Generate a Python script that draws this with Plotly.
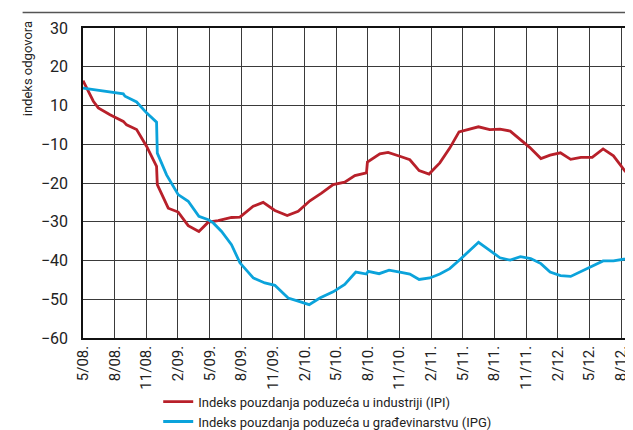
import plotly.graph_objects as go

# x positions in months since May 2008 (0 = 5/08)
ipi_x = [0, 0.98, 1.45, 2.56, 3.82, 4.13, 5.08, 6.02, 6.97, 7.04, 8.08, 9.02, 9.97, 10.98,
         11.87, 12.81, 14.07, 14.87, 16.13, 17.07, 18.18, 19.35, 20.39, 21.5, 22.6, 23.7,
         24.8, 25.76, 26.86, 26.95, 28.13, 28.91, 30.02, 30.97, 31.85, 32.79, 33.81, 34.75,
         35.63, 36.96, 37.47, 38.54, 39.51, 40.48, 41.52, 42.32, 43.39, 44.26, 45.24, 46.21,
         47.18, 48.25, 49.28, 50.26, 51.38, 52.02]
ipi_y = [6.4, 1.1, -0.6, -2.4, -4.1, -5.0, -6.2, -10.5, -15.7, -20.4, -26.5, -27.5, -31.0, -32.5,
         -30.1, -29.7, -28.9, -28.8, -26.0, -25.0, -27.1, -28.4, -27.3, -24.6, -22.6, -20.4,
         -19.8, -18.1, -17.4, -14.6, -12.5, -12.1, -13.1, -14.0, -16.8, -17.7, -14.8, -11.0,
         -6.8, -5.8, -5.5, -6.2, -6.1, -6.6, -9.0, -10.8, -13.7, -12.8, -12.2, -13.9,
         -13.4, -13.4, -11.2, -13.0, -17.0, -17.6]

ipg_x = [0, 3.82, 3.98, 5.08, 6.02, 6.97, 7.04, 7.92, 9.02, 9.97, 10.98, 11.87, 12.34, 13.13,
         14.07, 14.87, 16.13, 17.23, 18.18, 19.44, 20.39, 21.43, 22.44, 23.7, 24.8, 25.85,
         26.86, 27.02, 28.06, 29.0, 30.02, 30.97, 31.85, 32.86, 33.81, 34.75, 35.7, 36.66,
         37.48, 38.44, 39.51, 40.48, 41.45, 42.42, 43.39, 44.26, 45.24, 46.21, 47.18, 48.25,
         49.28, 50.26, 51.38, 52.02]
ipg_y = [4.5, 3.0, 2.4, 0.9, -1.9, -4.3, -12.3, -17.9, -23.0, -24.7, -28.6, -29.5, -30.3, -32.5,
         -35.9, -40.6, -44.5, -45.8, -46.4, -49.7, -50.5, -51.4, -49.7, -48.1, -46.2, -43.0,
         -43.5, -42.8, -43.4, -42.5, -43.0, -43.5, -44.9, -44.5, -43.5, -42.1, -39.8, -37.5,
         -35.3, -37.2, -39.3, -39.9, -39.0, -39.5, -40.8, -43.0, -43.9, -44.1, -42.8, -41.4,
         -40.1, -40.1, -39.6, -39.1]

x_tick_pos = list(range(0, 52, 3))
x_tick_labels = ["5/08.", "8/08.", "11/08.", "2/09.", "5/09.", "8/09.", "11/09.", "2/10.",
                 "5/10.", "8/10.", "11/10.", "2/11.", "5/11.", "8/11.", "11/11.", "2/12.",
                 "5/12.", "8/12."]
y_tick_pos = [20, 10, 0, -10, -20, -30, -40, -50, -60]
y_tick_labels = ["30", "20", "10", "−10", "−20", "−30", "−40", "−50", "−60"]

series_names = ["Indeks pouzdanja poduzeća u industriji (IPI)",
                "Indeks pouzdanja poduzeća u građevinarstvu (IPG)"]
y_title = "indeks odgovora"

FONT = "Roboto, Liberation Sans, sans-serif"
RED = "#B8202A"
BLUE = "#0BA3DB"
GRID = "#3a3a3a"

fig = go.Figure()
fig.add_trace(go.Scatter(x=ipi_x, y=ipi_y, mode="lines", name=series_names[0],
                         line=dict(color=RED, width=2.8)))
fig.add_trace(go.Scatter(x=ipg_x, y=ipg_y, mode="lines", name=series_names[1],
                         line=dict(color=BLUE, width=2.8)))

fig.update_layout(
    width=633, height=430,
    margin=dict(l=75, r=9, t=20, b=100, autoexpand=False),
    paper_bgcolor="white", plot_bgcolor="white",
    font=dict(family=FONT, size=15, color="#222"),
    showlegend=True,
    legend=dict(orientation="v", x=0.137, y=-0.157, xanchor="left", yanchor="top",
                font=dict(family=FONT, size=13, color="#222"),
                tracegroupgap=0, itemwidth=30, bgcolor="rgba(0,0,0,0)"),
    xaxis=dict(range=[0, 52.02], tickmode="array", tickvals=x_tick_pos, ticktext=x_tick_labels,
               tickangle=-90, showgrid=True, gridcolor=GRID, gridwidth=1, automargin=False,
               showline=True, linecolor="#111", linewidth=1.5, mirror=True,
               zeroline=False, ticks="", tickfont=dict(size=15)),
    yaxis=dict(range=[-60, 20], tickmode="array", tickvals=y_tick_pos, ticktext=y_tick_labels,
               showgrid=True, gridcolor=GRID, gridwidth=1, automargin=False,
               showline=True, linecolor="#111", linewidth=1.5, mirror=True,
               zeroline=False, ticks="", ticklabelstandoff=10, tickfont=dict(size=16)),
)

fig.add_annotation(text=y_title, xref="paper", yref="paper", x=-0.0996, y=0.868,
                   textangle=-90, showarrow=False, font=dict(size=13, color="#222"),
                   xanchor="center", yanchor="middle")

fig.add_shape(type="line", xref="paper", yref="paper", x0=-0.11, x1=1.0055, y0=1.05, y1=1.05,
              line=dict(color="#555", width=1.5))

fig.write_html("out.html")
